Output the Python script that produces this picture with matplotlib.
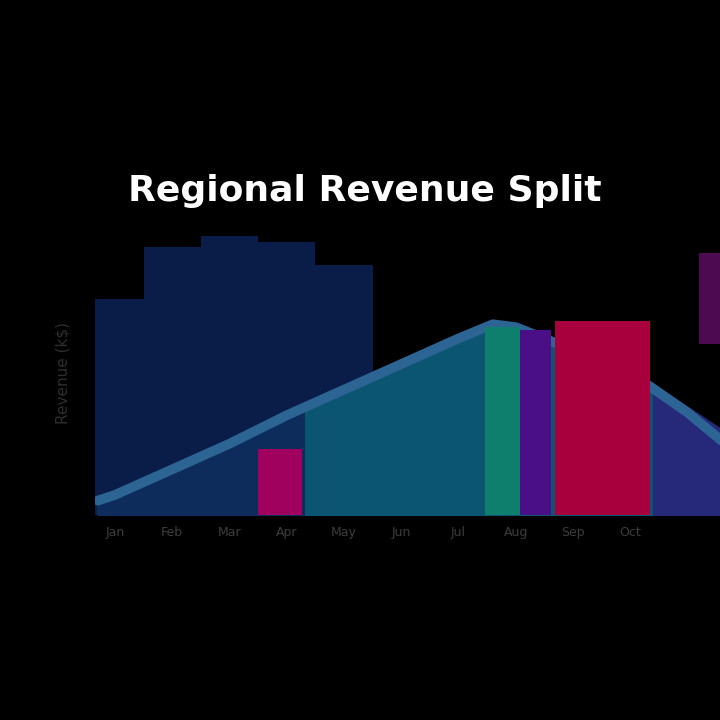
"""Dark-theme mixed chart: background bars, rising trend line, highlight bars."""

import numpy as np
import matplotlib.pyplot as plt
from matplotlib.patches import Rectangle

# ---------------------------------------------------------------
# Data
# ---------------------------------------------------------------
months = ["Jan", "Feb", "Mar", "Apr", "May", "Jun", "Jul", "Aug", "Sep", "Oct"]

# wide translucent background bars (first five periods)
base_x = [0, 1, 2, 3, 4]
base_vals = [76, 94, 98, 96, 88]

# trend line
trend_x = [-0.3, 0, 1, 2, 3, 4, 5, 6, 6.6, 7, 8, 9, 10, 10.6]
trend_vals = [5, 7, 16, 25, 35, 44, 53, 62, 67, 66, 58, 50, 36, 26]

# highlight bars: (centre, width, value, colour)
hl_x = [2.88, 6.77, 7.35, 8.52]
hl_w = [0.77, 0.62, 0.55, 1.65]
hl_vals = [23, 66, 65, 68]
hl_colors = ["#a0005e", "#0e7f6c", "#4a0f86", "#a8003c"]

# tail on the far right
tail_x = [9.4, 10.6]
tail_vals = [46, 30]
accent_x = [10.45]
accent_low = [60]
accent_high = [92]

# ---------------------------------------------------------------
# Figure
# ---------------------------------------------------------------
fig = plt.figure(figsize=(7.2, 7.2), dpi=100, facecolor="black")
ax = fig.add_axes([0.132, 0.285, 0.868, 0.395], facecolor="black")

ax.bar(base_x, base_vals, width=1.0, color="#0a1d48", zorder=1)

# area under the trend: navy on the left, teal on the right
teal = ax.fill_between(trend_x, 0, trend_vals, color="#0b5572", zorder=2)
navy = ax.fill_between(trend_x, 0, trend_vals, color="#0d2c5c", zorder=2)
clip = Rectangle((-1, 0), 4.3, 120, transform=ax.transData)
navy.set_clip_path(clip)
ax.fill_between(tail_x, 0, tail_vals, color="#26287a", zorder=2)
ax.plot(trend_x, trend_vals, color="#2c6593", lw=7, solid_capstyle="round", zorder=3)

ax.bar(accent_x, np.array(accent_high) - np.array(accent_low), bottom=accent_low,
       width=0.5, color="#4e0a50", zorder=3)
ax.bar(hl_x, hl_vals, width=hl_w, color=hl_colors, zorder=4)

ax.set_xlim(-0.35, 10.57)
ax.set_ylim(0, 100)
ax.set_xticks(range(len(months)))
ax.set_xticklabels(months, color="#3c3c3c", fontsize=9)
ax.tick_params(axis="x", length=0, pad=8)
ax.set_yticks([])
for s in ax.spines.values():
    s.set_visible(False)

ax.set_ylabel("Revenue (k$)", color="#2e2e2e", fontsize=11, labelpad=18)

fig.text(0.506, 0.735, "Regional Revenue Split", color="white",
         fontsize=26, fontweight="bold", ha="center", va="center")

plt.savefig("out.png", dpi=100, facecolor="black")
plt.close()
